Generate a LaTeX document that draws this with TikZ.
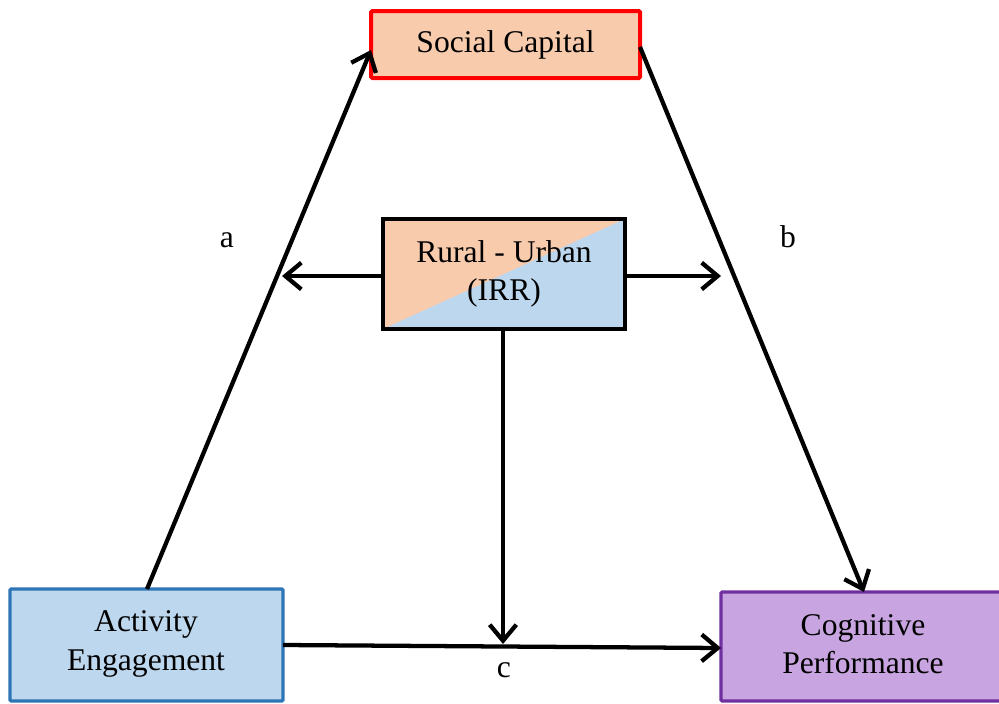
\documentclass[tikz,border=0pt]{standalone}
\usepackage{fontspec}
\setmainfont{Liberation Serif}
\usetikzlibrary{arrows.meta}
\definecolor{orangefill}{HTML}{F8CBAD}
\definecolor{bluefill}{HTML}{BDD7EE}
\definecolor{blueedge}{HTML}{2E75B6}
\definecolor{purplefill}{HTML}{C8A5E0}
\definecolor{purpleedge}{HTML}{7030A0}
\tikzset{
  px/.style={x=0.75pt,y=-0.75pt},
  boxtext/.style={font=\fontsize{23.7}{28.6}\selectfont, align=center, inner sep=0pt},
  conn/.style={line width=3.2pt, -{Straight Barb[length=12pt,width=20pt,line width=3.2pt]}},
  lbl/.style={font=\fontsize{23.7}{28}\selectfont, inner sep=0pt}
}
\begin{document}
\begin{tikzpicture}[px]
\useasboundingbox (0,0) rectangle (999,703);
\clip (0,0) rectangle (999,703);
% Social Capital
\draw[red, fill=orangefill, line width=3pt, rounded corners=1pt] (371,11) rectangle (640,78);
\node[boxtext] (sc) at (505.5,44.5) {Social Capital};
\coordinate (scw) at (371,50);
\coordinate (sce) at (640,47);
% Rural - Urban
\fill[orangefill] (383,219) rectangle (625,329);
\fill[bluefill] (383,329) -- (625,219) -- (625,329) -- cycle;
\draw[black, line width=3.2pt] (383,219) rectangle (625,329);
\node[boxtext] (ru) at (504,274) {Rural - Urban\\(IRR)};
\coordinate (rul) at (383,276);
\coordinate (rur) at (625,276);
\coordinate (rub) at (503,329);
\coordinate (ruL) at (282,276);
\coordinate (ruR) at (721,276);
\coordinate (ruD) at (503,644);
% Activity Engagement
\draw[blueedge, fill=bluefill, line width=2.5pt, rounded corners=1pt] (10,589) rectangle (283,701);
\node[boxtext] (ae) at (146,644) {Activity\\Engagement};
\coordinate (aen) at (147,589);
\coordinate (aee) at (283,645);
% Cognitive Performance
\draw[purpleedge, fill=purplefill, line width=2.5pt, rounded corners=1pt] (721,592) rectangle (1007,701);
\node[boxtext] (cp) at (863,644) {Cognitive\\Performance};
\coordinate (cpn) at (864,592);
\coordinate (cpw) at (721,648);
% connectors
\draw[conn] (aen) -- (scw);
\draw[conn] (sce) -- (cpn);
\draw[conn] (rul) -- (ruL);
\draw[conn] (rur) -- (ruR);
\draw[conn] (rub) -- (ruD);
\draw[conn] (aee) -- (cpw);
% labels
\node[lbl] (la) at (227,240) {a};
\node[lbl] (lb) at (788,237) {b};
\node[lbl] (lc) at (504,670) {c};
\end{tikzpicture}
\end{document}
